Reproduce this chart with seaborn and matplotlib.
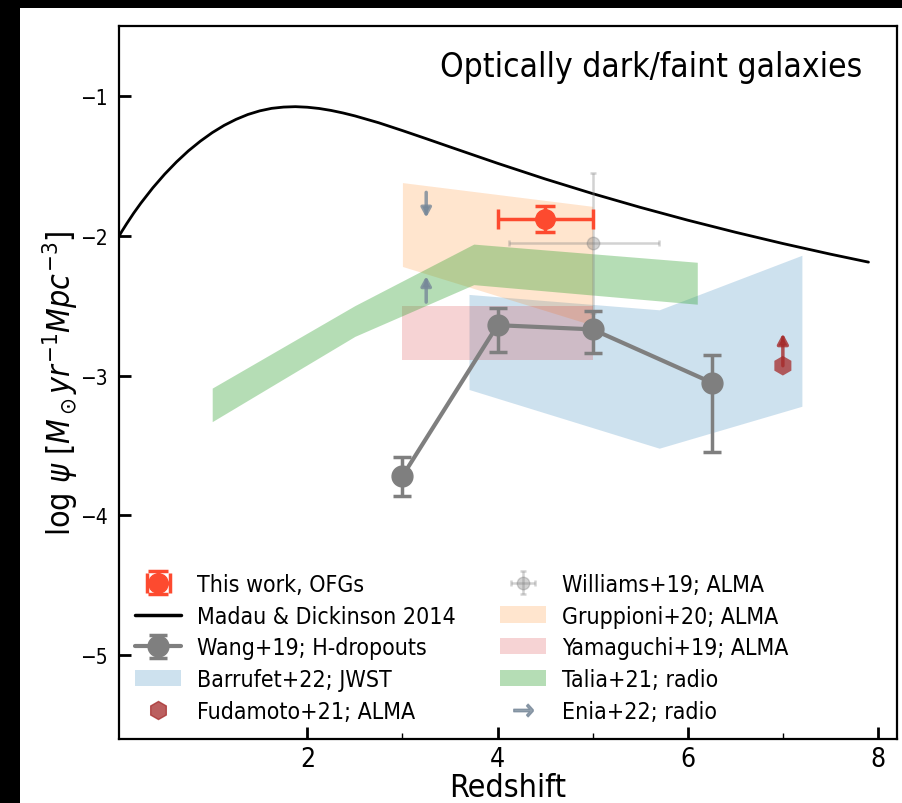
import numpy as np
import pandas as pd
import matplotlib
matplotlib.use("Agg")
import matplotlib.pyplot as plt
from matplotlib.lines import Line2D
from matplotlib.patches import Patch, Rectangle
import seaborn as sns

# ---------------- data ----------------
# Madau & Dickinson 2014 curve (log SFRD)
md_z = [0.0, 0.05, 0.1, 0.175, 0.25, 0.375, 0.5, 0.625, 0.75, 0.875, 1.0, 1.125,
        1.25, 1.375, 1.5, 1.625, 1.75, 1.875, 2.0, 2.125, 2.25, 2.375, 2.5, 2.75,
        3.0, 3.25, 3.5, 4.0, 4.5, 5.0, 5.5, 6.0, 6.5, 7.0, 7.5, 7.9]
md_logpsi = [-2.026, -1.969, -1.915, -1.838, -1.767, -1.658, -1.560, -1.472,
             -1.393, -1.324, -1.263, -1.211, -1.168, -1.133, -1.107, -1.089,
             -1.080, -1.077, -1.081, -1.090, -1.104, -1.122, -1.143, -1.192,
             -1.248, -1.306, -1.365, -1.482, -1.594, -1.699, -1.797, -1.889,
             -1.975, -2.056, -2.132, -2.189]

# This work, OFGs
tw_z = [4.5]
tw_y = [-1.88]
tw_xerr = [0.5]
tw_yerr = [0.095]

# Williams+19
wi_z = [5.0]
wi_y = [-2.05]
wi_xerr_lo = [0.88]
wi_xerr_hi = [0.70]
wi_yerr = [0.5]

# Wang+19 H-dropouts
wa_z = [3.0, 4.0, 5.0, 6.25]
wa_y = [-3.72, -2.64, -2.67, -3.05]
wa_err_lo = [0.14, 0.19, 0.17, 0.50]
wa_err_hi = [0.14, 0.12, 0.13, 0.195]

# Barrufet+22 (JWST) band
ba_z = [3.7, 5.7, 7.2]
ba_lo = [-3.10, -3.52, -3.22]
ba_hi = [-2.42, -2.53, -2.14]

# Gruppioni+20 band
gr_z = [3.0, 5.0]
gr_lo = [-2.22, -2.64]
gr_hi = [-1.62, -1.79]

# Yamaguchi+19 box
ya_z = [3.0, 5.0]
ya_lo = [-2.89, -2.89]
ya_hi = [-2.50, -2.50]

# Talia+21 radio band
ta_z = [1.0, 2.5, 3.75, 6.1]
ta_lo = [-3.33, -2.72, -2.35, -2.49]
ta_hi = [-3.09, -2.50, -2.06, -2.19]

# Fudamoto+21 (lower limit)
fu_z = [7.0]
fu_y = [-2.93]
fu_tip = [-2.70]

# Enia+22 radio limits (start, end of arrow)
en_z = [3.25, 3.25]
en_start = [-1.69, -2.475]
en_end = [-1.87, -2.29]

xticks = [2, 4, 6, 8]
yticks = [-1, -2, -3, -4, -5]
ytick_labels = ['\u22121', '\u22122', '\u22123', '\u22124', '\u22125']

labels = ['This work, OFGs', 'Madau & Dickinson 2014', 'Wang+19; H-dropouts',
          'Barrufet+22; JWST', 'Fudamoto+21; ALMA', 'Williams+19; ALMA',
          'Gruppioni+20; ALMA', 'Yamaguchi+19; ALMA', 'Talia+21; radio',
          'Enia+22; radio']

# ---------------- style ----------------
sns.set_style("ticks")
plt.rcParams['font.family'] = ['DejaVu Sans']
plt.rcParams['font.stretch'] = 'condensed'
plt.rcParams['mathtext.fontset'] = 'dejavusans'
for k in ['text.color', 'axes.labelcolor', 'xtick.color', 'ytick.color',
          'axes.edgecolor']:
    plt.rcParams[k] = 'black'

fig = plt.figure(figsize=(9.03, 8.04), dpi=100, facecolor='white')
ax = fig.add_axes([119/903, 1-740/804, (897-119)/903, (740-27)/804])

# black screenshot borders
fig.patches.append(Rectangle((0, 1-9/804), 1, 9/804, transform=fig.transFigure,
                             facecolor='black', edgecolor='none', zorder=-10))
fig.patches.append(Rectangle((0, 0), 20/903, 1, transform=fig.transFigure,
                             facecolor='black', edgecolor='none', zorder=-10))

# bands
ax.fill_between(ba_z, ba_lo, ba_hi, color='tab:blue', alpha=0.22, lw=0, zorder=1)
ax.fill_between(gr_z, gr_lo, gr_hi, color='tab:orange', alpha=0.2, lw=0, zorder=1)
ax.fill_between(ya_z, ya_lo, ya_hi, color='tab:red', alpha=0.2, lw=0, zorder=1)
ax.fill_between(ta_z, ta_lo, ta_hi, color='tab:green', alpha=0.35, lw=0, zorder=1)

# Madau & Dickinson
md = pd.DataFrame({'z': md_z, 'logpsi': md_logpsi})
sns.lineplot(data=md, x='z', y='logpsi', color='black', lw=2.0, ax=ax, zorder=3)

# Williams+19
h_wi = ax.errorbar(wi_z, wi_y, xerr=[wi_xerr_lo, wi_xerr_hi], yerr=wi_yerr, fmt='o',
                   color='gray', alpha=0.35, ms=9, elinewidth=1.8, capsize=2.5,
                   capthick=1.8, zorder=4)

# Wang+19
h_wa = ax.errorbar(wa_z, wa_y, yerr=[wa_err_lo, wa_err_hi], fmt='o-', color='#7f7f7f',
                   ms=15, lw=3.0, elinewidth=2.5, capsize=6.5, capthick=2.5, zorder=5)

# This work
red = '#fd4a2f'
h_tw = ax.errorbar(tw_z, tw_y, xerr=tw_xerr, yerr=tw_yerr, fmt='o', color=red, ms=14,
                   elinewidth=2.5, capsize=7, capthick=2.5, zorder=6)

# Fudamoto+21
fu = pd.DataFrame({'z': fu_z, 'y': fu_y})
sns.scatterplot(data=fu, x='z', y='y', marker='h', s=200, color='#a52a2a',
                alpha=0.75, edgecolor='none', ax=ax, zorder=5)
for z, y0, y1 in zip(fu_z, fu_y, fu_tip):
    ax.annotate('', xy=(z, y1), xytext=(z, y0),
                arrowprops=dict(arrowstyle='-|>,head_length=0.6,head_width=0.32',
                                color='#a52a2a', lw=2.5, alpha=0.8,
                                shrinkA=0, shrinkB=0), zorder=6)

# Enia+22
for z, y0, y1 in zip(en_z, en_start, en_end):
    ax.annotate('', xy=(z, y1), xytext=(z, y0),
                arrowprops=dict(arrowstyle='-|>,head_length=0.55,head_width=0.3',
                                color='lightslategray', lw=2.5, alpha=0.8,
                                shrinkA=0, shrinkB=0), zorder=4)

ax.text(0.955, 0.9425, 'Optically dark/faint galaxies', transform=ax.transAxes,
        ha='right', va='center', fontsize=24)

ax.set_xlim(0.02, 8.2)
ax.set_ylim(-5.6, -0.5)
ax.set_xticks(xticks)
ax.set_yticks(yticks)
ax.set_xticks([3, 5, 7], minor=True)
ax.set_yticklabels(ytick_labels)
ax.tick_params(axis='both', which='major', direction='in', length=8.5, width=2)
ax.tick_params(axis='x', which='minor', direction='in', length=4.5, width=1, bottom=True)
ax.tick_params(axis='x', which='major', labelsize=19, pad=5)
ax.tick_params(axis='y', which='major', labelsize=15, pad=8)
for s in ax.spines.values():
    s.set_linewidth(1.6)

ax.set_xlabel('Redshift', fontsize=23, labelpad=0)
ax.set_ylabel(r'log $\psi$ [$M_\odot yr^{-1} Mpc^{-3}$]', fontsize=23, labelpad=0)

# legend
hs = [
    h_tw,
    Line2D([], [], color='black', lw=2.5),
    h_wa,
    Patch(facecolor='tab:blue', alpha=0.22, edgecolor='none'),
    Line2D([], [], color='#a52a2a', alpha=0.75, marker='h', ms=13, ls='none'),
    h_wi,
    Patch(facecolor='tab:orange', alpha=0.2, edgecolor='none'),
    Patch(facecolor='tab:red', alpha=0.2, edgecolor='none'),
    Patch(facecolor='tab:green', alpha=0.35, edgecolor='none'),
    Line2D([], [], color='lightslategray', alpha=0.8, marker=r'$\rightarrow$',
           ms=14, ls='none'),
]
ax.legend(hs, labels, ncol=2, loc='lower left', bbox_to_anchor=(0.0, 0.0),
          frameon=False, fontsize=16.6, labelspacing=0.38, handlelength=2.0,
          handletextpad=0.7, columnspacing=1.9, borderaxespad=0.3)

fig.savefig('out.png', dpi=100, facecolor='white')
